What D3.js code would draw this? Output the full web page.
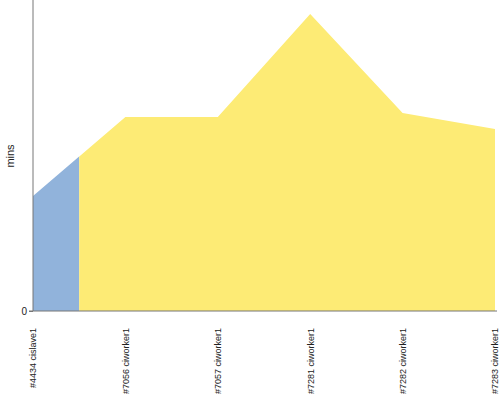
<!DOCTYPE html>
<html>
<head>
<meta charset="utf-8">
<script src="https://cdn.jsdelivr.net/npm/d3@7"></script>
<style>
  body { margin: 0; background: #fff; }
  svg { display: block; font-family: "Liberation Sans", Arial, sans-serif; }
</style>
</head>
<body>
<svg id="chart" width="500" height="400"></svg>
<script>
// Data
const builds = ["#4434 cislave1", "#7056 ciworker1", "#7057 ciworker1", "#7281 ciworker1", "#7282 ciworker1", "#7283 ciworker1"];
const nodes = ["cislave1", "ciworker1", "ciworker1", "ciworker1", "ciworker1", "ciworker1"];
const durations = [11.5, 19.4, 19.4, 29.7, 19.8, 18.2];
const yTicks = [0];

const NODE_COLORS = { cislave1: "#91b3db", ciworker1: "#fdeb75" };

const MARGIN = { top: 0, right: 5, bottom: 89, left: 33 };
const W = 500, H = 400;

const svg = d3.select("#chart");

const x = d3.scalePoint().domain(d3.range(builds.length)).range([MARGIN.left, W - MARGIN.right]);
const y = d3.scaleLinear().domain([0, 31.1]).range([H - MARGIN.bottom, MARGIN.top]);

const area = d3.area()
  .x((d, i) => x(i))
  .y0(y(0))
  .y1((d) => y(d));

// group consecutive builds on the same node, split half way to neighbours
const runs = [];
nodes.forEach((n, i) => {
  const last = runs[runs.length - 1];
  if (last && last.node === n) last.end = i;
  else runs.push({ node: n, start: i, end: i });
});

const defs = svg.append("defs");
runs.forEach((r, k) => {
  const left = r.start === 0 ? x(0) : (x(r.start - 1) + x(r.start)) / 2;
  const right = r.end === builds.length - 1 ? x(r.end) : (x(r.end) + x(r.end + 1)) / 2;
  defs.append("clipPath").attr("id", `run-${k}`)
    .append("rect")
    .attr("x", left).attr("y", 0)
    .attr("width", right - left).attr("height", H);
  svg.append("path")
    .datum(durations)
    .attr("clip-path", `url(#run-${k})`)
    .attr("fill", NODE_COLORS[r.node])
    .attr("d", area);
});

// Y axis
const yAxis = svg.append("g")
  .attr("transform", `translate(${MARGIN.left},0)`)
  .call(d3.axisLeft(y).tickValues(yTicks).tickSize(4).tickSizeOuter(0).tickFormat(d3.format("d")));
yAxis.select(".domain").attr("stroke", "#777").attr("d", `M0,0V${y(0)}`);
yAxis.selectAll(".tick line").attr("stroke", "#777");
yAxis.selectAll(".tick text").attr("font-size", 10).attr("fill", "#222").attr("x", -6);

// X axis
const xAxis = svg.append("g")
  .attr("transform", `translate(0,${y(0)})`)
  .call(d3.axisBottom(x).tickSize(0).tickSizeOuter(0).tickFormat((i) => builds[i]));
xAxis.select(".domain").attr("stroke", "#777").attr("d", `M${MARGIN.left - 4},0H${W - 3}`);
xAxis.selectAll(".tick text")
  .attr("font-size", 9)
  .attr("fill", "#222")
  .attr("text-anchor", "end")
  .attr("dy", "0.32em")
  .attr("transform", "translate(0,17) rotate(-90)")
  .attr("x", 0).attr("y", 0);

// Axis label
svg.append("text")
  .attr("transform", `translate(14,156) rotate(-90)`)
  .attr("text-anchor", "middle")
  .attr("font-size", 11)
  .attr("fill", "#222")
  .text("mins");
</script>
</body>
</html>
